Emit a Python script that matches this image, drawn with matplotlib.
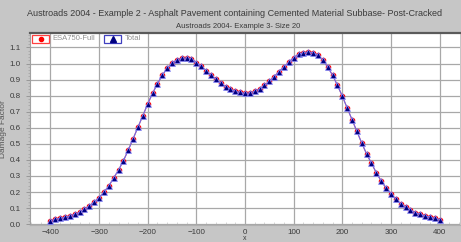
import matplotlib.pyplot as plt
from matplotlib.patches import Rectangle
from matplotlib.lines import Line2D
import numpy as np

# offsets (mm) every 10 from -400 to 400
offset = list(range(-400, 401, 10))

damage = [0.022, 0.031, 0.037, 0.043, 0.052, 0.062, 0.074, 0.093, 0.114, 0.139,
          0.165, 0.200, 0.238, 0.288, 0.337, 0.395, 0.461, 0.532, 0.604, 0.676,
          0.748, 0.816, 0.873, 0.927, 0.971, 1.002, 1.022, 1.033, 1.035, 1.031,
          1.006, 0.983, 0.956, 0.929, 0.902, 0.878, 0.857, 0.840, 0.828, 0.820,
          0.815,
          0.817, 0.828, 0.842, 0.865, 0.890, 0.919, 0.950, 0.979, 1.008, 1.037,
          1.058, 1.068, 1.072, 1.068, 1.052, 1.020, 0.979, 0.927, 0.865, 0.797,
          0.724, 0.651, 0.578, 0.505, 0.437, 0.379, 0.320, 0.269, 0.225, 0.190,
          0.155, 0.128, 0.107, 0.089, 0.072, 0.062, 0.052, 0.045, 0.037, 0.029]

# both series sit on top of each other in the chart
esa750_full = damage
total = damage

title = "Austroads 2004 - Example 2 - Asphalt Pavement containing Cemented Material Subbase- Post-Cracked"
subtitle = "Austroads 2004- Example 3- Size 20"

W, H = 461, 242
bg = '#c6c6c6'
txt = '#3a3a3a'

plt.rcParams['font.family'] = ['Liberation Sans', 'DejaVu Sans']

fig = plt.figure(figsize=(W / 100, H / 100), dpi=100, facecolor=bg)
ax = fig.add_axes([30 / W, 1 - 225 / H, 430 / W, 192 / H])
ax.set_facecolor('white')

ax.plot(offset, esa750_full, color='#ff6060', lw=0.8, marker='o', ms=3.0,
        mfc='red', mec='red', zorder=3)
ax.plot(offset, total, color='#6a6ae8', lw=0.8, marker='^', ms=3.8,
        mfc='#000080', mec='#9090ff', mew=0.5, zorder=4)

ax.set_xlim(-442, 442)
ax.set_ylim(-0.005, 1.19)
ax.set_xticks(np.arange(-400, 401, 100))
ax.set_yticks(np.arange(0, 1.11, 0.1))
ax.set_yticklabels([f'{v:.1f}' for v in np.arange(0, 1.11, 0.1)])
ax.set_xticks(np.arange(-440, 441, 20), minor=True)
ax.set_yticks(np.arange(0, 1.19, 0.02), minor=True)
ax.grid(True, which='major', color='#a8a8a8', lw=0.9)
ax.tick_params(which='major', labelsize=5.8, colors='#909090', labelcolor=txt,
               length=3, width=0.6)
ax.tick_params(axis='x', which='major', length=0, pad=3)
ax.tick_params(which='minor', direction='in', length=2.5, width=0.5,
               colors='#c8c8c8')
ax.tick_params(axis='y', which='minor', direction='out', length=1.5,
               colors='#a0a0a0')

ax.spines['right'].set_visible(False)
ax.spines['top'].set_color('#5a5a5a')
ax.spines['top'].set_linewidth(1.6)
ax.spines['left'].set_color('#a0a0a0')
ax.spines['bottom'].set_color('#b0b0b0')

ax.set_ylabel('Damage Factor', fontsize=6, color='#555555')
ax.yaxis.set_label_coords(-23 / 430, 0.5)
fig.text(245 / W, 0.0, 'x', fontsize=5, color=txt, ha='center', va='bottom')

fig.text(235 / W, 1 - 14 / H, title, fontsize=6.5, color=txt, ha='center', va='center')
fig.text(238 / W, 1 - 26 / H, subtitle, fontsize=5.5, color=txt, ha='center', va='center')

# legend: each marker sits in its own coloured box
for x0, x1, col, mk, fc, ms, label in [(31.7, 49.3, '#ff4040', 'o', 'red', 3.0, 'ESA750-Full'),
                                       (104, 121, '#4040c0', '^', '#000080', 4.0, 'Total')]:
    fig.patches.append(Rectangle((x0 / W, 1 - 43 / H), (x1 - x0) / W, 8.3 / H,
                                 transform=fig.transFigure, fill=False,
                                 edgecolor=col, lw=0.9, zorder=10))
    fig.lines.append(Line2D([(x0 + x1) / 2 / W], [1 - 39 / H], transform=fig.transFigure,
                            marker=mk, ms=ms, mfc=fc, mec=fc, ls='none', zorder=11))
    fig.text((x1 + 3.5) / W, 1 - 39 / H, label, fontsize=5.5, color='#909090',
             ha='left', va='center')

fig.savefig('out.png', dpi=100, facecolor=bg)
